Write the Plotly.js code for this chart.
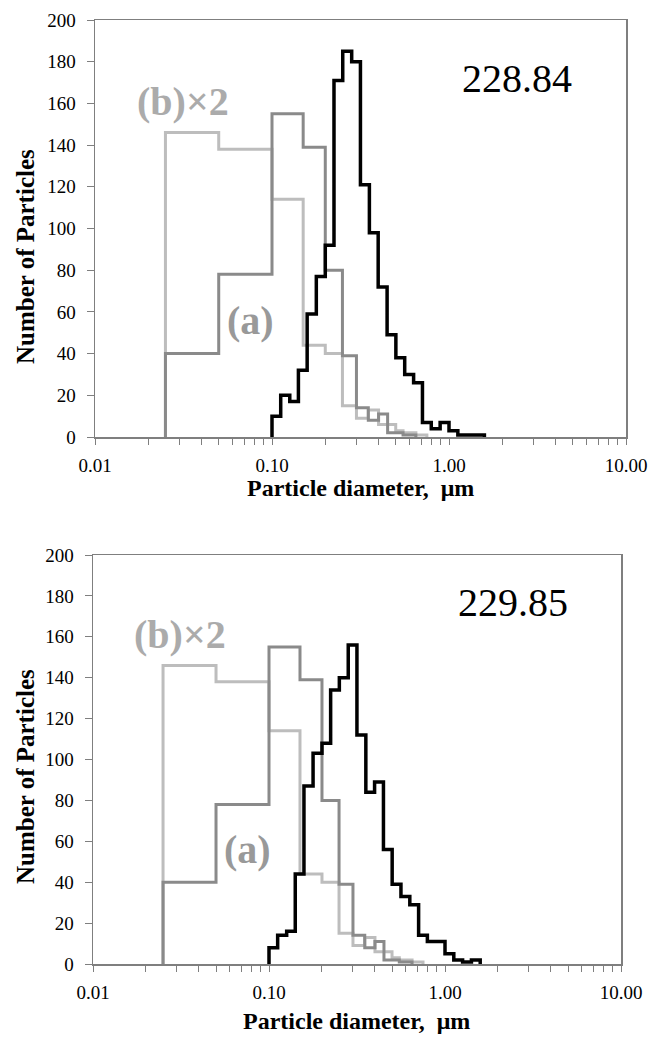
<!DOCTYPE html>
<html>
<head>
<meta charset="utf-8">
<script src="https://cdn.plot.ly/plotly-3.0.1.min.js"></script>
<style>html,body{margin:0;padding:0;background:#fff;}#chart{width:652px;height:1038px;}</style>
</head>
<body>
<div id="chart"></div>
<script>
// ---- data ----
// bin edges (µm) for the reference distributions (a) and (b)x2
const edgesA = [0.025,0.05,0.1,0.15,0.2,0.25,0.3,0.35,0.4,0.45,0.5,0.55,0.6,0.65];
const countsA = [40,78,155,139,80,39,14,8,11,2,2,1,1];
const edgesB = [0.025,0.05,0.1,0.15,0.2,0.25,0.3,0.35,0.4,0.45,0.5,0.55,0.6,0.65,0.7,0.75];
const countsB2 = [146,138,114,44,40,15,9,13,6,6,3,2,2,1,1]; // (b) already multiplied by 2 as plotted
// bin edges (µm) for the measured distributions
const edgesM = [0.100,0.112,0.126,0.141,0.158,0.178,0.200,0.224,0.251,0.282,0.316,0.355,0.398,0.447,0.501,0.562,0.631,0.708,0.794,0.891,1.000,1.122,1.259,1.413,1.585];
const counts22884 = [10,20,17,32,59,77,92,171,185,180,121,98,72,49,38,30,26,7,4,7,3,1,1,1];
const counts22985 = [8,14,16,44,87,103,108,134,140,156,112,84,89,56,39,33,29,14,11,11,5,2,1,2];
const panelLabels = ["228.84","229.85"];
const xTickVals = [0.01,0.1,1,10];
const xTickText = ["0.01","0.10","1.00","10.00"];

function stepXY(edges, counts){
  const x=[edges[0]], y=[0];
  for(let i=0;i<counts.length;i++){ x.push(edges[i]); y.push(counts[i]); }
  x.push(edges[counts.length]); y.push(0);
  return {x, y};
}

const W=652, H=1038;
const serif = "Liberation Serif";
const axisColor = "#7f7f7f";

const panels = [
  {xa:"x", ya:"y", counts:counts22884, px:[95,626], py:[20,437], titleOff:51, yTitleC:257},
  {xa:"x2", ya:"y2", counts:counts22985, px:[93,621], py:[555,964], titleOff:57, yTitleC:777}
];

const traces=[];
panels.forEach(p=>{
  const a=stepXY(edgesA,countsA), b=stepXY(edgesB,countsB2), m=stepXY(edgesM,p.counts);
  traces.push({x:b.x,y:b.y,xaxis:p.xa,yaxis:p.ya,mode:"lines",line:{shape:"hv",color:"#bdbdbd",width:3},hoverinfo:"skip"});
  traces.push({x:a.x,y:a.y,xaxis:p.xa,yaxis:p.ya,mode:"lines",line:{shape:"hv",color:"#8a8a8a",width:3},hoverinfo:"skip"});
  traces.push({x:m.x,y:m.y,xaxis:p.xa,yaxis:p.ya,mode:"lines",line:{shape:"hv",color:"#000000",width:3.5},hoverinfo:"skip"});
});

function xaxis(p){
  return {type:"log", range:[-2,1], domain:[p.px[0]/W, p.px[1]/W], anchor:p.ya,
    tickvals:xTickVals, ticktext:xTickText, ticks:"outside", ticklen:6, tickcolor:axisColor, tickwidth:1,
    minor:{ticks:"outside", ticklen:6, tickcolor:axisColor, dtick:"D1", showgrid:false},
    showline:true, mirror:true, linecolor:axisColor, linewidth:1.5, showgrid:false, zeroline:false,
    ticklabelstandoff:5, tickfont:{family:serif,size:19,color:"#000"}};
}
function yaxis(p){
  return {range:[0,200], dtick:20, domain:[1-p.py[1]/H, 1-p.py[0]/H], anchor:p.xa,
    ticks:"outside", ticklen:7, tickcolor:axisColor, tickwidth:1,
    showline:true, mirror:true, linecolor:axisColor, linewidth:1.5, showgrid:false, zeroline:false,
    ticklabelstandoff:7, tickfont:{family:serif,size:19,color:"#000"}};
}

const annotations=[];
panels.forEach((p,i)=>{
  const xr = p.xa==="x"?"x":"x2", yr = p.ya==="y"?"y":"y2";
  annotations.push({xref:xr,yref:yr,x:Math.log10(2.42),y:i===0?172:177,xanchor:"center",yanchor:"middle",text:panelLabels[i],showarrow:false,font:{family:serif,size:40,color:"#000"}});
  annotations.push({xref:xr,yref:yr,x:Math.log10(0.0314),y:161,xanchor:"center",yanchor:"middle",text:"<b>(b)×2</b>",showarrow:false,font:{family:serif,size:40,color:"#ababab"}});
  annotations.push({xref:xr,yref:yr,x:Math.log10(0.0752),y:56,xanchor:"center",yanchor:"middle",text:"<b>(a)</b>",showarrow:false,font:{family:serif,size:40,color:"#999999"}});
  annotations.push({xref:"paper",yref:"paper",x:25/W,y:1-p.yTitleC/H,xanchor:"center",yanchor:"middle",text:"<b>Number of Particles</b>",textangle:-90,showarrow:false,font:{family:serif,size:25,color:"#000"}});
  annotations.push({xref:"paper",yref:"paper",x:((p.px[0]+p.px[1])/2)/W,y:1-(p.py[1]+p.titleOff)/H,xanchor:"center",yanchor:"middle",text:"<b>Particle diameter,  μm</b>",showarrow:false,font:{family:serif,size:24,color:"#000"}});
});

const layout={width:W,height:H,margin:{l:0,r:0,t:0,b:0},paper_bgcolor:"#fff",plot_bgcolor:"#fff",showlegend:false,
  xaxis:xaxis(panels[0]), yaxis:yaxis(panels[0]), xaxis2:xaxis(panels[1]), yaxis2:yaxis(panels[1]),
  annotations};
Plotly.newPlot("chart",traces,layout,{staticPlot:true});
</script>
</body>
</html>
